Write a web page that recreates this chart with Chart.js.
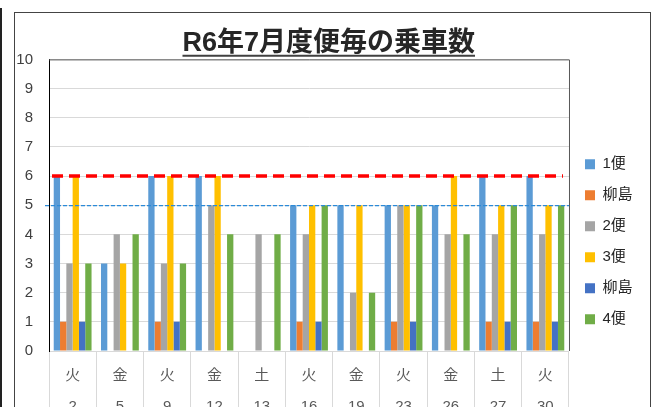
<!DOCTYPE html>
<html>
<head>
<meta charset="utf-8">
<script src="https://cdn.jsdelivr.net/npm/chart.js@4"></script>
<style>
  html, body { margin: 0; padding: 0; background: #fff; overflow: hidden; }
  body { width: 656px; height: 407px; position: relative; }
  .edge { position: absolute; left: 0; top: 8px; width: 2px; height: 400px; background: #222; }
  .frame { position: absolute; left: 14px; top: 12px; width: 635px; height: 420px; border: 1px solid #444; }
  .wrap { position: absolute; left: 0; top: 0; width: 635px; height: 420px; }
</style>
</head>
<body>
<div class="edge"></div>
<div class="frame"><div class="wrap"><canvas id="myChart"></canvas></div></div>
<script>
const days = ["2", "5", "9", "12", "13", "16", "19", "23", "26", "27", "30"];
const weekdays = ["火", "金", "火", "金", "土", "火", "金", "火", "金", "土", "火"];
const bin1 = [6, 3, 6, 6, 0, 5, 5, 5, 5, 6, 6];
const yanagi1 = [1, 0, 1, 0, 0, 1, 0, 1, 0, 1, 1];
const bin2 = [3, 4, 3, 5, 4, 4, 2, 5, 4, 4, 4];
const bin3 = [6, 3, 6, 6, 0, 5, 5, 5, 6, 5, 5];
const yanagi2 = [1, 0, 1, 0, 0, 1, 0, 1, 0, 1, 1];
const bin4 = [3, 4, 3, 4, 4, 5, 2, 5, 4, 5, 5];
const yTicks = [0, 1, 2, 3, 4, 5, 6, 7, 8, 9, 10];
const targetLine = 6;
const averageLine = 5;

const FONT = "'Liberation Sans', 'Noto Sans CJK JP', sans-serif";
const TITLE = "R6年7月度便毎の乗車数";
const TITLE_SIZE = 27;

const refLines = {
  id: "refLines",
  afterDatasetsDraw(chart) {
    const { ctx, chartArea: a, scales: { y } } = chart;
    ctx.save();
    // plot area border (top / right)
    ctx.strokeStyle = "#595959";
    ctx.lineWidth = 1;
    ctx.beginPath();
    ctx.moveTo(a.left, a.top + 0.5);
    ctx.lineTo(a.right + 0.5, a.top + 0.5);
    ctx.lineTo(a.right + 0.5, a.bottom);
    ctx.stroke();

    const yr = y.getPixelForValue(targetLine);
    ctx.strokeStyle = "#ff0000";
    ctx.lineWidth = 3.5;
    ctx.setLineDash([11, 6]);
    ctx.beginPath();
    ctx.moveTo(a.left + 3, yr);
    ctx.lineTo(a.right - 6, yr);
    ctx.stroke();

    const yb = y.getPixelForValue(averageLine);
    ctx.strokeStyle = "#2b8ad8";
    ctx.lineWidth = 1.2;
    ctx.setLineDash([4, 2]);
    ctx.beginPath();
    ctx.moveTo(a.left - 4, yb + 0.5);
    ctx.lineTo(a.right, yb + 0.5);
    ctx.stroke();
    ctx.restore();
  },
  afterDraw(chart) {
    // underline under the title
    const t = chart.titleBlock;
    if (!t) return;
    const { ctx } = chart;
    ctx.save();
    ctx.font = "bold " + TITLE_SIZE + "px " + FONT;
    const w = ctx.measureText(TITLE).width;
    const cx = (t.left + t.right) / 2;
    const cy = t.top + 14 + (TITLE_SIZE * 1.2) / 2;
    ctx.strokeStyle = "#404040";
    ctx.lineWidth = 2;
    ctx.beginPath();
    ctx.moveTo(cx - w / 2, cy + 12.5);
    ctx.lineTo(cx + w / 2, cy + 12.5);
    ctx.stroke();
    ctx.restore();
  },
};

const mk = (label, data, color) => ({
  label,
  data,
  backgroundColor: color,
  borderWidth: 0,
  barPercentage: 1.0,
  categoryPercentage: 0.8,
});

const ctx = document.getElementById("myChart").getContext("2d");
const myChart = new Chart(ctx, {
  type: "bar",
  data: {
    labels: weekdays.map((w, i) => [w, days[i]]),
    datasets: [
      mk("1便", bin1, "#5B9BD5"),
      mk("柳島", yanagi1, "#ED7D31"),
      mk("2便", bin2, "#A5A5A5"),
      mk("3便", bin3, "#FFC000"),
      mk("柳島", yanagi2, "#4472C4"),
      mk("4便", bin4, "#70AD47"),
    ],
  },
  options: {
    responsive: true,
    maintainAspectRatio: false,
    animation: false,
    layout: { padding: { top: 0, left: 0, right: 7.5, bottom: 10.5 } },
    plugins: {
      title: {
        display: true,
        text: TITLE,
        color: "#262626",
        font: { family: FONT, size: TITLE_SIZE, weight: "bold", lineHeight: 1.2 },
        padding: { top: 14, bottom: 0 },
      },
      legend: {
        position: "right",
        fullSize: false,
        align: "start",
        title: { display: true, text: "", padding: { top: 67, bottom: 0 }, font: { size: 12 } },
        labels: {
          boxWidth: 10,
          boxHeight: 10,
          padding: 16,
          color: "#262626",
          font: { family: FONT, size: 15 },
        },
      },
      tooltip: { enabled: false },
    },
    scales: {
      x: {
        grid: { display: true, drawOnChartArea: false, tickLength: 60, color: "#d9d9d9" },
        border: { color: "#d9d9d9" },
        afterFit: (axis) => {
          axis.height = 71.5;
        },
        ticks: {
          color: "#595959",
          padding: -50.5,
          maxRotation: 0,
          font: { family: FONT, size: 15, lineHeight: 2.07 },
        },
      },
      y: {
        min: 0,
        max: 10,
        afterBuildTicks: (axis) => {
          axis.ticks = yTicks.map((v) => ({ value: v }));
        },
        afterFit: (axis) => {
          axis.width = 34;
        },
        grid: { color: "#d9d9d9", drawTicks: false },
        border: { color: "#000" },
        ticks: {
          color: "#404040",
          padding: 16,
          font: { family: FONT, size: 15 },
        },
      },
    },
  },
  plugins: [refLines],
});
</script>
</body>
</html>
